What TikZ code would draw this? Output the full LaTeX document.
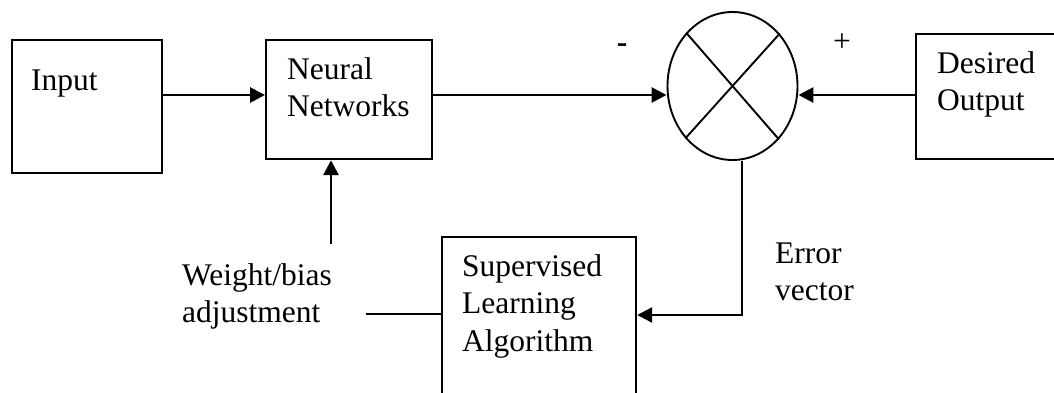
\documentclass[tikz,border=0pt]{standalone}
\usepackage{fontspec}
\setmainfont{Liberation Serif}
\usetikzlibrary{arrows.meta,shapes.geometric}
\begin{document}
\begin{tikzpicture}[x=1pt,y=-1pt,
  box/.style={draw, line width=2.2pt, rectangle, inner sep=0pt, anchor=north west},
  lbl/.style={anchor=base west, inner sep=0pt, font=\fontsize{31.5}{37.5}\selectfont},
  flow/.style={line width=2.8pt, -{Triangle[length=15pt,width=15pt]}},
  plain/.style={line width=2.2pt}]
\useasboundingbox (0,0) rectangle (1054,392);
\clip (0,0) rectangle (1054,392);

% blocks
\node[box, minimum width=150pt, minimum height=133pt] (input) at (11,39) {};
\node[box, minimum width=166pt, minimum height=119pt] (nn) at (265,39) {};
\node[box, minimum width=170pt, minimum height=125pt] (des) at (915,33) {};
\node[box, minimum width=194pt, minimum height=180pt] (sup) at (441,236) {};
\node[draw, ellipse, line width=1.9pt, minimum width=130pt, minimum height=148pt, inner sep=0pt] (sum) at (732.5,86) {};
\draw[line width=1.9pt] (sum.131.3) -- (sum.311.3) (sum.48.7) -- (sum.228.7);

% texts
\node[lbl] (inputtxt) at (31,90) {Input};
\node[lbl] (nntxt) at (287,79) {\begin{tabular}[t]{@{}l@{}}Neural\\Networks\end{tabular}};
\node[lbl] (destxt) at (937,73) {\begin{tabular}[t]{@{}l@{}}Desired\\Output\end{tabular}};
\node[lbl] (suptxt) at (462,276) {\begin{tabular}[t]{@{}l@{}}Supervised\\Learning\\Algorithm\end{tabular}};
\node[lbl] (wtxt) at (182,285) {\begin{tabular}[t]{@{}l@{}}Weight/bias\\adjustment\end{tabular}};
\node[lbl] (etxt) at (775,263) {\begin{tabular}[t]{@{}l@{}}Error\\vector\end{tabular}};
\node[lbl, anchor=base] (minus) at (622,52) {\textbf{-}};
\node[lbl, anchor=base] (plus) at (842,51) {+};

% connectors
\coordinate (ya) at (0,95);
\draw[flow] (input.east |- ya) -- (nn.west |- ya);
\draw[flow] (nn.east |- ya) -- (sum.west |- ya);
\draw[flow] (des.west |- ya) -- (sum.east |- ya);
\coordinate (wfoot) at (331,244);
\draw[flow] (wfoot) -- (wfoot |- nn.south);
\coordinate (wtail) at (366,314);
\draw[plain] (wtail) -- (wtail -| sup.west);
\coordinate (ecorner) at (742,315);
\draw[flow, line width=2.4pt] (ecorner |- sum.south) -- (ecorner) -- (ecorner -| sup.east);
\end{tikzpicture}
\end{document}
